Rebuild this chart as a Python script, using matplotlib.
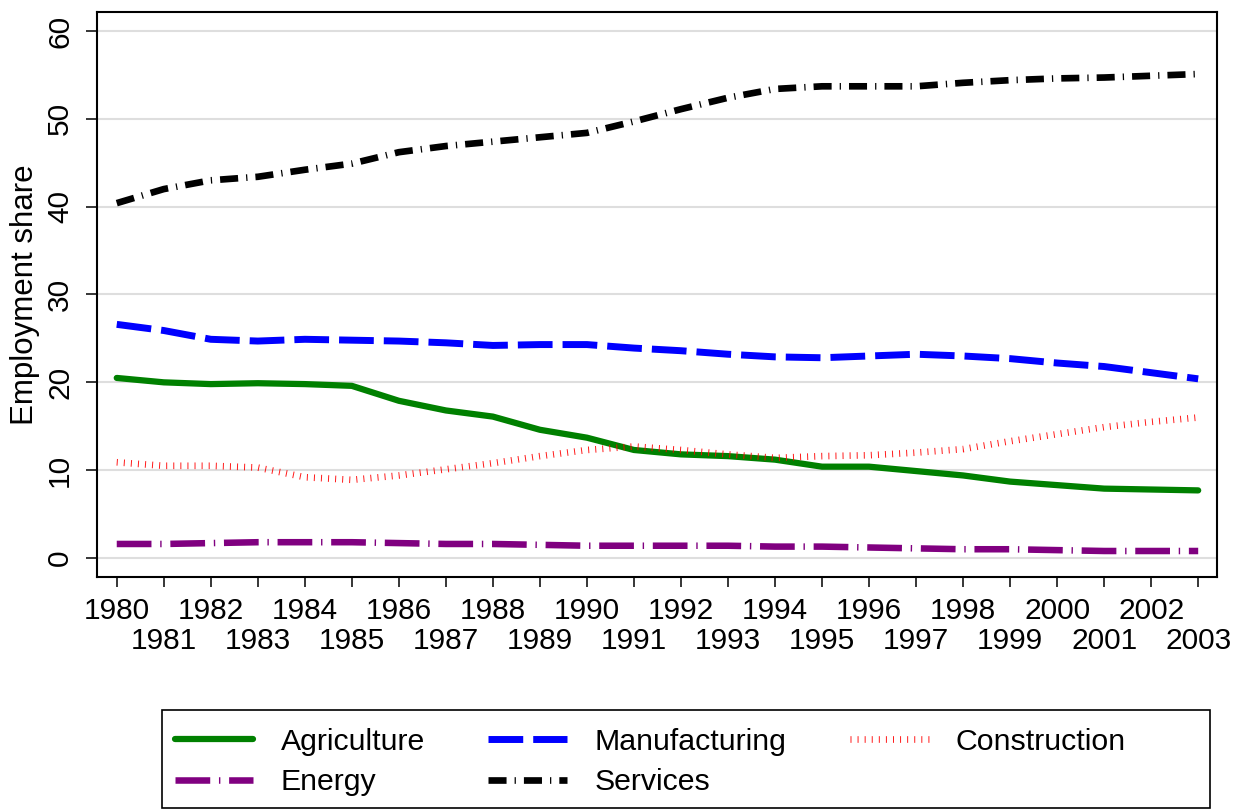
import matplotlib
matplotlib.use("Agg")
import matplotlib.pyplot as plt
from matplotlib.patches import Rectangle

plt.rcParams['font.family'] = ['Liberation Sans', 'DejaVu Sans']
plt.rcParams['lines.scale_dashes'] = False

years = list(range(1980, 2004))
agriculture = [20.5, 20.0, 19.8, 19.9, 19.8, 19.6, 17.9, 16.8, 16.1, 14.6, 13.7, 12.3,
               11.8, 11.6, 11.2, 10.4, 10.4, 9.9, 9.4, 8.7, 8.3, 7.9, 7.8, 7.7]
manufacturing = [26.6, 25.9, 24.9, 24.7, 24.9, 24.8, 24.7, 24.5, 24.2, 24.3, 24.3, 23.9,
                 23.6, 23.2, 22.9, 22.8, 23.0, 23.2, 23.0, 22.7, 22.2, 21.8, 21.1, 20.4]
construction = [10.9, 10.5, 10.5, 10.3, 9.2, 8.9, 9.4, 10.1, 10.8, 11.6, 12.3, 12.7,
                12.3, 11.8, 11.4, 11.6, 11.7, 12.0, 12.4, 13.3, 14.1, 14.9, 15.5, 16.0]
energy = [1.6, 1.6, 1.7, 1.8, 1.8, 1.8, 1.7, 1.6, 1.6, 1.5, 1.4, 1.4,
          1.4, 1.4, 1.3, 1.3, 1.2, 1.1, 1.0, 1.0, 0.9, 0.8, 0.8, 0.8]
services = [40.4, 42.0, 43.0, 43.4, 44.2, 44.9, 46.2, 46.9, 47.4, 47.9, 48.4, 49.7,
            51.1, 52.4, 53.4, 53.7, 53.7, 53.7, 54.1, 54.4, 54.6, 54.7, 54.9, 55.1]
y_ticks = [0, 10, 20, 30, 40, 50, 60]

W, H = 1247, 810
fig = plt.figure(figsize=(W / 100, H / 100), dpi=100)
ax = fig.add_axes([97 / W, 1 - 577 / H, (1217 - 97) / W, (577 - 12) / H])

l_agr, = ax.plot(years, agriculture, color='#008000', lw=4.5, solid_capstyle='round',
                 solid_joinstyle='round', label='Agriculture', zorder=3)
l_man, = ax.plot(years, manufacturing, color='#0000FF', lw=5.0, dashes=(25, 7.2),
                 label='Manufacturing', zorder=3)
l_con, = ax.plot(years, construction, color='#FF0000', lw=4.8, dashes=(0.7, 4.4),
                 alpha=0.9, label='Construction', zorder=3)
l_ene, = ax.plot(years, energy, color='#800080', lw=4.7, dashes=(25, 6.3, 1.0, 6.3),
                 label='Energy', zorder=3)
l_ser, = ax.plot(years, services, color='black', lw=4.8, dashes=(13, 5.8, 0.9, 5.8),
                 label='Services', zorder=3)

ax.set_xlim(1979.58, 2003.40)
ax.set_ylim(-2.16, 62.16)
ax.set_yticks(y_ticks)
ax.set_yticklabels([str(v) for v in y_ticks], rotation=90, va='center')
ax.grid(axis='y', color='#DEDEDE', lw=1.5, zorder=0)
ax.set_axisbelow(True)

even = [y for y in years if y % 2 == 0]
odd = [y for y in years if y % 2 == 1]
ax.set_xticks(even)
ax.set_xticklabels([str(y) for y in even])
ax.set_xticks(odd, minor=True)
ax.set_xticklabels([str(y) for y in odd], minor=True)

fs = 21.5
ax.tick_params(axis='x', which='major', length=7.5, width=1.1, pad=7.0, labelsize=fs)
ax.tick_params(axis='x', which='minor', length=7.5, width=1.1, pad=28.5, labelsize=fs)
ax.tick_params(axis='y', length=8, width=1.1, pad=8.5, labelsize=fs)
for s in ax.spines.values():
    s.set_linewidth(1.5)

ax.set_ylabel('Employment share', fontsize=22.5)
ax.yaxis.set_label_coords((40 - 97) / 1120, 0.5)

handles = [l_agr, l_ene, l_man, l_ser, l_con]
leg = fig.legend(handles, [h.get_label() for h in handles], ncol=3,
                 loc='upper left', bbox_to_anchor=(157 / W, 1 - 710 / H),
                 borderaxespad=0, frameon=False, fontsize=21.8,
                 handlelength=2.6, handletextpad=0.9, columnspacing=2.1,
                 labelspacing=0.42, borderpad=0.58)
fig.patches.append(Rectangle((162 / W, 1 - 808 / H), (1210 - 162) / W, (808 - 710) / H,
                             transform=fig.transFigure, fill=False, edgecolor='black',
                             lw=1.2))

fig.savefig('out.png', dpi=100)
